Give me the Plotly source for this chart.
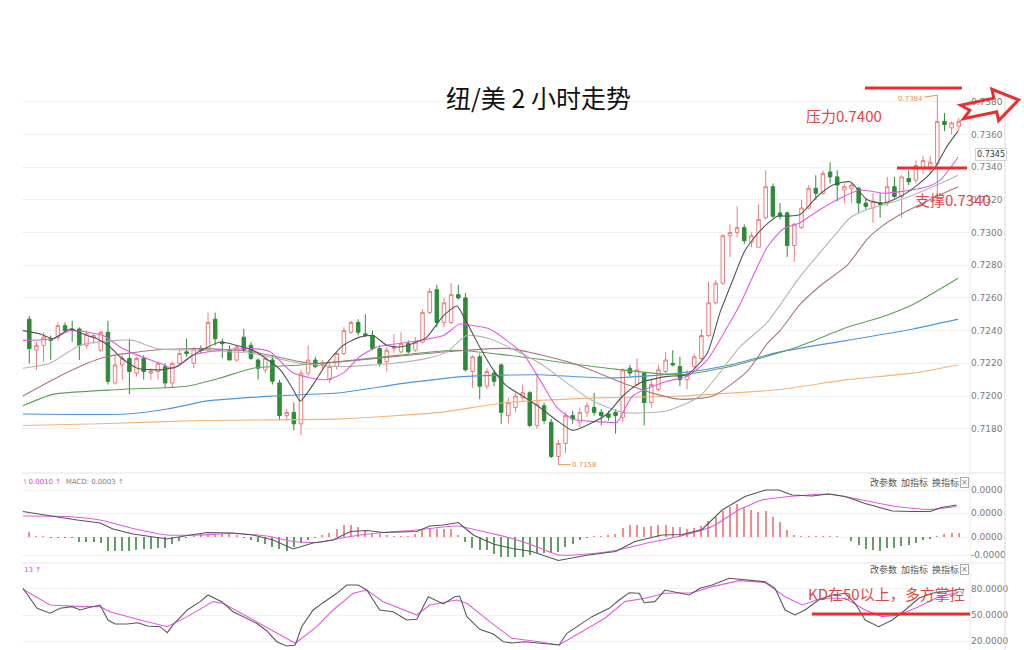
import plotly.graph_objects as go

# ---------------- data ----------------
idx = list(range(131))

opens = [0.7247,0.7228,0.7231,0.7235,0.7236,0.7243,0.7241,0.7241,0.7231,0.7236,
         0.7228,0.7239,0.7208,0.7219,0.7223,0.7214,0.7223,0.7214,0.7215,0.7218,
         0.7208,0.7220,0.7227,0.7220,0.7229,0.7228,0.7247,0.7233,0.7228,0.7222,
         0.7236,0.7231,0.7222,0.7216,0.7222,0.7208,0.7188,0.7190,0.7183,0.7214,
         0.7222,0.7219,0.7210,0.7218,0.7226,0.7239,0.7245,0.7238,0.7237,0.7229,
         0.7221,0.7229,0.7227,0.7232,0.7228,0.7233,0.7251,0.7265,0.7245,0.7245,
         0.7262,0.7260,0.7215,0.7224,0.7206,0.7214,0.7219,0.7188,0.7193,0.7199,
         0.7202,0.7182,0.7194,0.7184,0.7163,0.7171,0.7188,0.7184,0.7190,0.7193,
         0.7190,0.7189,0.7190,0.7187,0.7217,0.7207,0.7214,0.7196,0.7204,0.7215,
         0.7220,0.7218,0.7210,0.7218,0.7223,0.7237,0.7257,0.7269,0.7298,0.7300,
         0.7303,0.7294,0.7291,0.7309,0.7328,0.7312,0.7312,0.7292,0.7303,0.7315,
         0.7327,0.7324,0.7337,0.7334,0.7326,0.7327,0.7327,0.7318,0.7315,0.7318,
         0.7318,0.7328,0.7322,0.7333,0.7332,0.7339,0.7340,0.7342,0.7368,0.7364,
         0.7365]
highs = [0.7249,0.7233,0.7239,0.7237,0.7245,0.7245,0.7246,0.7242,0.7240,0.7238,
         0.7240,0.7246,0.7225,0.7225,0.7235,0.7224,0.7225,0.7217,0.7221,0.7220,
         0.7221,0.7228,0.7235,0.7230,0.7231,0.7251,0.7251,0.7235,0.7231,0.7231,
         0.7241,0.7233,0.7223,0.7224,0.7225,0.7210,0.7192,0.7196,0.7216,0.7231,
         0.7224,0.7222,0.7221,0.7227,0.7242,0.7246,0.7247,0.7250,0.7240,0.7231,
         0.7230,0.7238,0.7239,0.7234,0.7236,0.7253,0.7266,0.7268,0.7260,0.7269,
         0.7268,0.7263,0.7225,0.7226,0.7217,0.7216,0.7220,0.7199,0.7202,0.7207,
         0.7203,0.7214,0.7196,0.7186,0.7173,0.7190,0.7191,0.7193,0.7196,0.7202,
         0.7192,0.7191,0.7192,0.7217,0.7219,0.7223,0.7215,0.7210,0.7219,0.7227,
         0.7228,0.7224,0.7216,0.7226,0.7241,0.7270,0.7271,0.7299,0.7305,0.7316,
         0.7305,0.7300,0.7317,0.7338,0.7330,0.7318,0.7313,0.7306,0.7320,0.7329,
         0.7335,0.7338,0.7343,0.7338,0.7330,0.7331,0.7328,0.7321,0.7324,0.7324,
         0.7334,0.7334,0.7335,0.7338,0.7344,0.7347,0.7347,0.7384,0.7373,0.7368,
         0.7370]
lows = [0.7220,0.7216,0.7221,0.7222,0.7234,0.7239,0.7233,0.7222,0.7229,0.7232,
        0.7227,0.7207,0.7207,0.7210,0.7201,0.7212,0.7210,0.7210,0.7210,0.7205,
        0.7205,0.7219,0.7224,0.7217,0.7226,0.7227,0.7231,0.7223,0.7222,0.7221,
        0.7227,0.7222,0.7210,0.7214,0.7207,0.7185,0.7185,0.7179,0.7176,0.7212,
        0.7217,0.7216,0.7208,0.7216,0.7225,0.7238,0.7237,0.7236,0.7228,0.7218,
        0.7215,0.7226,0.7226,0.7226,0.7227,0.7232,0.7250,0.7242,0.7242,0.7244,
        0.7259,0.7215,0.7205,0.7198,0.7204,0.7206,0.7183,0.7183,0.7190,0.7197,
        0.7181,0.7180,0.7183,0.7162,0.7158,0.7165,0.7183,0.7181,0.7187,0.7188,
        0.7182,0.7185,0.7177,0.7184,0.7212,0.7206,0.7182,0.7193,0.7203,0.7214,
        0.7218,0.7206,0.7204,0.7217,0.7222,0.7236,0.7256,0.7268,0.7285,0.7297,
        0.7293,0.7291,0.7291,0.7308,0.7309,0.7308,0.7285,0.7282,0.7302,0.7314,
        0.7320,0.7323,0.7330,0.7319,0.7318,0.7318,0.7312,0.7314,0.7306,0.7309,
        0.7316,0.7321,0.7309,0.7329,0.7330,0.7336,0.7336,0.7320,0.7362,0.7360,
        0.7362]
closes = [0.7229,0.7231,0.7236,0.7234,0.7243,0.7240,0.7240,0.7231,0.7238,0.7237,
          0.7239,0.7209,0.7219,0.7223,0.7215,0.7223,0.7215,0.7215,0.7220,0.7208,
          0.7220,0.7226,0.7226,0.7229,0.7228,0.7245,0.7235,0.7232,0.7222,0.7230,
          0.7228,0.7223,0.7217,0.7223,0.7209,0.7188,0.7190,0.7183,0.7214,0.7222,
          0.7218,0.7219,0.7218,0.7226,0.7240,0.7245,0.7239,0.7237,0.7229,0.7220,
          0.7228,0.7230,0.7232,0.7227,0.7233,0.7251,0.7264,0.7245,0.7257,0.7262,
          0.7260,0.7216,0.7224,0.7206,0.7215,0.7209,0.7190,0.7196,0.7200,0.7202,
          0.7182,0.7195,0.7185,0.7163,0.7171,0.7188,0.7186,0.7190,0.7194,0.7190,
          0.7188,0.7187,0.7188,0.7216,0.7214,0.7216,0.7196,0.7207,0.7216,0.7222,
          0.7219,0.7210,0.7213,0.7224,0.7237,0.7257,0.7269,0.7298,0.7300,0.7303,
          0.7295,0.7298,0.7308,0.7328,0.7310,0.7310,0.7292,0.7305,0.7315,0.7327,
          0.7324,0.7336,0.7334,0.7329,0.7328,0.7329,0.7318,0.7316,0.7319,0.7317,
          0.7328,0.7322,0.7334,0.7331,0.7341,0.7344,0.7343,0.7368,0.7366,0.7367,
          0.7368]

# moving averages (x = candle index)
ma5_x = [-0.9,1.5,3.3,5.7,8.1,9.5,11.3,12.7,15.1,18.3,20.7,22.9,26.7,29.0,31.3,35.1,36.9,37.9,39.7,41.6,
         43.9,46.2,48.1,50.0,51.8,54.2,55.6,57.9,59.8,60.7,63.0,64.9,66.8,69.0,71.4,73.8,76.0,78.4,80.8,83.0,
         85.4,89.2,92.0,94.8,96.6,98.4,100.1,102.2,104.6,106.0,107.8,110.2,112.4,114.8,117.2,119.4,121.8,124.2,126.4,128.4,129.9]
ma5_y = [0.7240,0.7238,0.7235,0.7241,0.7237,0.7235,0.7230,0.7224,0.7217,0.7216,0.7218,0.7225,0.7233,0.7231,0.7228,0.7216,0.7204,0.7197,0.7207,0.7220,
         0.7231,0.7236,0.7237,0.7231,0.7230,0.7233,0.7236,0.7249,0.7255,0.7249,0.7230,0.7216,0.7206,0.7200,0.7193,0.7185,0.7179,0.7183,0.7189,0.7200,
         0.7208,0.7212,0.7213,0.7226,0.7251,0.7271,0.7289,0.7301,0.7310,0.7310,0.7311,0.7322,0.7329,0.7331,0.7320,0.7318,0.7322,0.7329,0.7338,0.7353,0.7362]
ma10_x = [-0.9,3.3,5.7,10.3,12.7,15.1,18.3,20.1,22.9,26.7,31.3,33.7,36.9,41.6,43.9,46.2,48.6,53.2,57.9,60.2,
          62.1,64.4,69.0,71.4,73.8,76.0,80.8,82.2,84.4,89.2,92.0,94.8,97.6,99.4,103.2,105.4,107.8,110.2,113.4,116.2,
          119.4,121.8,125.6,127.4,129.9]
ma10_y = [0.7234,0.7235,0.7240,0.7237,0.7230,0.7225,0.7220,0.7217,0.7225,0.7228,0.7229,0.7227,0.7214,0.7210,0.7214,0.7224,0.7230,0.7233,0.7237,0.7244,
          0.7243,0.7241,0.7226,0.7210,0.7193,0.7186,0.7184,0.7184,0.7200,0.7209,0.7212,0.7222,0.7242,0.7256,0.7291,0.7302,0.7306,0.7313,0.7321,0.7326,
          0.7324,0.7325,0.7328,0.7332,0.7346]
ma20_x = [-0.9,2.9,7.1,12.3,14.5,17.9,23.9,31.3,37.9,43.5,50.9,55.6,58.4,61.2,64.4,71.4,78.4,83.0,89.2,93.8,
          99.4,103.2,107.8,112.4,114.8,117.2,121.8,126.4,129.9]
ma20_y = [0.7217,0.7220,0.7231,0.7234,0.7234,0.7229,0.7228,0.7226,0.7220,0.7218,0.7220,0.7223,0.7227,0.7237,0.7235,0.7220,0.7198,0.7190,0.7191,0.7200,
          0.7230,0.7245,0.7273,0.7297,0.7309,0.7314,0.7320,0.7328,0.7335]
ma30_x = [-0.9,3.3,8.1,10.8,17.3,24.3,31.3,39.3,46.3,55.6,61.2,67.2,76.0,83.0,87.8,91.0,95.6,100.4,103.2,105.0,
          107.8,110.5,114.4,117.2,119.0,121.8,126.4,129.9]
ma30_y = [0.7200,0.7210,0.7220,0.7224,0.7228,0.7229,0.7227,0.7220,0.7222,0.7226,0.7228,0.7229,0.7220,0.7208,0.7201,0.7198,0.7200,0.7215,0.7232,0.7240,
          0.7256,0.7267,0.7280,0.7296,0.7303,0.7311,0.7321,0.7328]
ma60_x = [-0.9,3.3,12.7,22.1,26.7,31.3,37.9,43.4,51.8,59.8,66.8,80.8,91.0,98.0,107.4,114.4,119.0,123.6,129.9]
ma60_y = [0.7194,0.7201,0.7204,0.7206,0.7211,0.7217,0.7219,0.7221,0.7225,0.7228,0.7225,0.7217,0.7213,0.7218,0.7230,0.7242,0.7248,0.7256,0.7272]
ma120_x = [-0.9,13.7,19.3,24.9,34.1,43.5,52.8,61.2,71.4,80.8,91.0,98.0,105.0,114.4,123.6,129.9]
ma120_y = [0.7189,0.7189,0.7192,0.7197,0.7200,0.7202,0.7208,0.7212,0.7213,0.7211,0.7214,0.7219,0.7227,0.7234,0.7241,0.7247]
ma250_x = [-0.9,9.9,23.9,43.4,57.4,66.8,80.8,91.0,105.0,114.4,123.6,129.9]
ma250_y = [0.7182,0.7183,0.7185,0.7186,0.7190,0.7196,0.7199,0.7200,0.7204,0.7210,0.7214,0.7219]

price_ticks = [0.7180,0.7200,0.7220,0.7240,0.7260,0.7280,0.7300,0.7320,0.7340,0.7360,0.7380]
price_labels = ["0.7180","0.7200","0.7220","0.7240","0.7260","0.7280","0.7300","0.7320","0.7340","0.7360","0.7380"]

# MACD
macd_hist = [0.0001,0.00001,0.00001,-0.00001,-0.00001,-0.00001,-0.00002,-0.0001,-0.0001,-0.0001,
             -0.00012,-0.00028,-0.00028,-0.00028,-0.00028,-0.00026,-0.00024,-0.00024,-0.00022,-0.00022,
             -0.00014,-0.00008,-0.00002,0.00002,0.00006,0.00006,0.00006,0.00006,0.00006,0.00004,
             -0.00002,-0.00006,-0.0001,-0.00014,-0.0002,-0.00024,-0.00028,-0.0002,-0.00012,-0.00006,
             -0.00002,0.00004,0.00008,0.00016,0.00024,0.00024,0.0002,0.00012,0.00006,0.00006,
             0.00004,0.00002,0.00002,0.00002,0.00006,0.00014,0.00018,0.00016,0.00016,0.00016,
             0.00004,-0.0001,-0.00022,-0.00026,-0.00026,-0.00034,-0.0004,-0.0004,-0.0004,-0.0004,
             -0.00036,-0.00032,-0.00032,-0.00032,-0.0003,-0.0002,-0.00014,-0.00006,-0.00002,0.00002,
             0.00002,0.00004,0.00006,0.00018,0.00024,0.00024,0.0002,0.00022,0.00024,0.00024,
             0.0002,0.0002,0.00016,0.00018,0.00022,0.00032,0.0004,0.00052,0.0006,0.00066,
             0.0006,0.00054,0.0005,0.00052,0.0004,0.0003,0.00014,0.00004,0.00002,0.00002,
             0.00002,0.00001,0.00001,0.00001,0.0,-0.00008,-0.00016,-0.00024,-0.00026,-0.00028,
             -0.00022,-0.00022,-0.00018,-0.00016,-0.00012,-0.00006,-0.00004,0.00001,0.00006,0.00008,0.00008]
dif_x = [-0.9,2.9,6.7,9.9,11.7,14.5,16.9,19.3,22.1,24.9,28.5,31.3,34.1,36.9,39.7,42.5,44.9,47.2,49.5,54.2,
         56.0,57.9,60.0,62.1,64.9,67.5,70.3,74.0,78.2,82.0,84.7,88.5,91.3,94.1,96.9,100.1,103.0,104.8,106.7,109.5,
         111.8,114.1,116.9,120.7,123.5,126.0,127.6,129.7]
dif_y = [0.00051,0.00042,0.00034,0.00028,0.00016,0.00006,0.00001,-0.00004,0.00003,0.00009,0.00008,0.00004,-0.00006,-0.00024,-0.00012,-0.00006,0.00011,0.00013,0.00009,0.00011,
         0.00022,0.00024,0.00029,0.00004,-0.00014,-0.00023,-0.00029,-0.00047,-0.00036,-0.00029,-0.00009,0.00004,0.00005,0.00015,0.00054,0.00081,0.00094,0.00094,0.00084,0.00082,
         0.00086,0.00081,0.00067,0.00052,0.00051,0.00051,0.00059,0.00064]
dea_x = [-0.9,5.3,9.9,14.5,19.3,23.9,28.5,33.2,36.9,40.2,44.9,49.5,54.2,59.8,63.5,67.5,70.3,74.0,78.2,82.4,
         86.2,90.8,95.5,99.2,102.5,107.1,111.8,116.5,121.2,125.8,129.7]
dea_y = [0.00042,0.00041,0.00034,0.00017,0.00004,0.00004,0.00007,0.00002,-0.00009,-0.00011,0.00001,0.00009,0.00014,0.00022,0.00011,-0.00003,-0.00016,-0.00036,-0.00034,-0.00026,
         -0.00013,0.00001,0.00021,0.00054,0.00074,0.00082,0.00086,0.00074,0.00061,0.00055,0.00061]
macd_ticks = [-0.00036, 0.0, 0.00048, 0.00094]
macd_labels = ["-0.0000", "0.0000", "0.0000", "0.0000"]

# KD
k_x = [-0.9,0.1,1.1,2.9,4.3,6.0,7.1,8.5,9.9,11.0,12.0,13.7,15.2,16.5,18.3,19.3,20.1,22.1,23.9,25.0,
       26.9,28.5,30.4,31.8,33.2,34.6,36.0,37.2,38.1,39.7,41.1,43.0,44.4,46.0,47.2,49.0,50.9,52.8,54.2,55.8,
       57.9,59.5,60.2,61.2,63.0,64.9,66.3,67.5,69.3,71.3,74.1,75.2,76.9,78.7,81.1,82.5,83.9,85.3,86.0,87.5,
       88.9,90.9,92.3,93.8,95.5,97.9,100.1,102.9,104.3,105.7,107.1,108.5,110.4,112.3,114.1,115.5,116.9,118.8,120.7,122.5,
       124.4,126.2,128.1,129.7]
k_y = [80.8,69.3,57.7,52.0,57.7,59.6,55.8,58.9,61.5,44.2,39.6,39.6,41.1,37.3,36.5,29.6,38.5,55.8,65.4,73.1,
       65.4,53.8,46.2,40.4,31.9,19.2,14.3,15.4,36.5,55.8,64.2,75.0,84.6,84.6,78.8,55.8,53.8,44.2,45.1,71.1,
       62.7,71.1,71.9,48.1,33.5,28.1,19.2,17.7,19.2,17.4,15.4,28.9,38.5,48.1,57.7,67.3,75.7,75.0,64.2,65.4,
       78.8,75.0,73.1,80.8,84.6,92.3,90.4,88.4,80.8,55.8,50.0,55.8,67.3,73.1,75.0,63.5,44.2,36.5,44.2,55.8,
       69.3,75.0,76.9,78.8]
d_x = [-0.9,2.9,7.5,9.9,11.3,15.5,19.3,22.1,25.7,27.1,30.9,34.6,37.2,40.2,42.5,45.3,47.2,49.5,54.2,56.0,
       59.8,61.2,64.4,67.5,71.3,74.1,76.9,80.5,83.3,86.1,88.9,92.7,95.5,99.3,102.9,105.7,108.1,110.9,114.1,116.9,
       119.3,121.6,124.4,127.2,129.7]
d_y = [79.7,61.5,59.6,59.6,53.8,44.2,36.5,48.1,65.4,63.5,46.2,28.9,17.4,36.5,55.8,75.0,78.8,65.4,50.0,61.5,
       67.3,63.5,42.3,23.1,19.2,15.4,28.9,46.2,65.4,69.3,75.0,75.7,82.7,89.6,87.3,71.1,61.5,69.3,69.3,55.8,
       48.1,50.0,59.6,71.1,75.7]
kd_ticks = [20, 50, 80]
kd_labels = ["20.0000", "50.0000", "80.0000"]

# ---------------- figure ----------------
W, H = 1024, 650
def fx(x): return x / W
def fy(y): return 1 - y / H

RED = '#e8302e'
UP = '#ef7b7b'
DOWN = '#2e8b3a'
MAG = '#e35be3'

fig = go.Figure()
fig.add_trace(go.Candlestick(
    x=idx, open=opens, high=highs, low=lows, close=closes,
    increasing=dict(line=dict(color=UP, width=1), fillcolor='white'),
    decreasing=dict(line=dict(color=DOWN, width=1), fillcolor=DOWN),
    whiskerwidth=0, xaxis='x', yaxis='y', hoverinfo='skip'))

for xs, ys, col in [(ma250_x, ma250_y, '#f6b478'),
                    (ma120_x, ma120_y, '#4c97dc'),
                    (ma60_x, ma60_y, '#5ea255'),
                    (ma30_x, ma30_y, '#a8767e'),
                    (ma20_x, ma20_y, '#b5b5b5'),
                    (ma10_x, ma10_y, MAG),
                    (ma5_x, ma5_y, '#555555')]:
    fig.add_trace(go.Scatter(x=xs, y=ys, mode='lines', line=dict(color=col, width=1.1, shape='spline', smoothing=0.6),
                             xaxis='x', yaxis='y', hoverinfo='skip'))

bar_cols = ['#f08c8c' if v > 0 else '#5f9f66' for v in macd_hist]
fig.add_trace(go.Bar(x=idx, y=macd_hist, width=0.17, marker=dict(color=bar_cols, line=dict(width=0)),
                     xaxis='x2', yaxis='y2', hoverinfo='skip'))
fig.add_trace(go.Scatter(x=dea_x, y=dea_y, mode='lines', line=dict(color=MAG, width=1.1, shape='spline', smoothing=0.5),
                         xaxis='x2', yaxis='y2', hoverinfo='skip'))
fig.add_trace(go.Scatter(x=dif_x, y=dif_y, mode='lines', line=dict(color='#555555', width=1.1),
                         xaxis='x2', yaxis='y2', hoverinfo='skip'))

fig.add_trace(go.Scatter(x=d_x, y=d_y, mode='lines', line=dict(color=MAG, width=1.1),
                         xaxis='x3', yaxis='y3', hoverinfo='skip'))
fig.add_trace(go.Scatter(x=k_x, y=k_y, mode='lines', line=dict(color='#5a5a5a', width=1.1),
                         xaxis='x3', yaxis='y3', hoverinfo='skip'))

xdom = [fx(22), fx(970)]
xr = [-1.02, 131.57]
xcommon = dict(domain=xdom, range=xr, showticklabels=False, showgrid=False, zeroline=False,
               showline=False, ticks='', fixedrange=True)
tickfont = dict(family='DejaVu Sans', size=9, color='#7a7a7a')
ycommon = dict(side='right', showgrid=True, gridcolor='#f1f1f1', gridwidth=1, zeroline=False,
               showline=False, ticks='', tickfont=tickfont, fixedrange=True, tickmode='array')

fig.update_layout(
    width=W, height=H, margin=dict(l=0, r=0, t=0, b=0),
    paper_bgcolor='white', plot_bgcolor='white', showlegend=False, bargap=0,
    xaxis=dict(**xcommon, anchor='y', rangeslider=dict(visible=False)),
    xaxis2=dict(**xcommon, anchor='y2', matches='x'),
    xaxis3=dict(**xcommon, anchor='y3', matches='x'),
    yaxis=dict(**ycommon, anchor='x', domain=[fy(472), fy(80)], range=[0.715352, 0.739327],
               tickvals=price_ticks, ticktext=price_labels),
    yaxis2=dict(**ycommon, anchor='x2', domain=[fy(562), fy(474)], range=[-0.0005, 0.00126],
                tickvals=macd_ticks, ticktext=macd_labels),
    yaxis3=dict(**ycommon, anchor='x3', domain=[0, fy(564)], range=[9.64, 108.8],
                tickvals=kd_ticks, ticktext=kd_labels),
)

cjk = 'Noto Sans CJK SC'
def note(text, x, y, size, color, family=cjk, xanchor='center', **kw):
    d = dict(text=text, x=fx(x), y=fy(y), xref='paper', yref='paper', showarrow=False,
             xanchor=xanchor, yanchor='middle', font=dict(family=family, size=size, color=color))
    d.update(kw)
    return d

ann = []
ann.append(note('纽/美 2 小时走势', 538, 97, 25, '#111111'))
ann.append(note('压力0.7400', 844, 116, 15, '#e54545'))
ann.append(note('支撑0.7340', 953, 199, 15, '#e54545'))
ann.append(note('KD在50以上，多方掌控', 886, 593, 15, '#e54545'))
ann.append(dict(text='0.7384', x=127, y=0.7384, xref='x', yref='y', showarrow=True, arrowhead=0, arrowwidth=1,
                arrowcolor='#e8915a', ax=-27, ay=4, font=dict(family='DejaVu Sans', size=7, color='#e8915a')))
ann.append(dict(text='0.7158', x=74, y=0.7158, xref='x', yref='y', showarrow=True, arrowhead=0, arrowwidth=1,
                arrowcolor='#e8915a', ax=26, ay=0, font=dict(family='DejaVu Sans', size=7, color='#e8915a')))
ann.append(note('0.7345', 991, 154, 8, '#333333', family='DejaVu Sans',
                bordercolor='#cfcfcf', borderwidth=1, borderpad=1, bgcolor='white'))
ann.append(note("<span style='color:#e040e0'>\\ 0.0010 ↑</span>  <span style='color:#808080'>MACD: 0.0003 ↑</span>",
                22, 482, 7, '#808080', family='DejaVu Sans', xanchor='left'))
ann.append(note('13 ↑', 22, 570, 7, '#e040e0', family='DejaVu Sans', xanchor='left'))
for yy in (482, 569):
    ann.append(note('改参数  加指标  换指标', 868, yy, 9, '#555555', xanchor='left'))
    ann.append(note('×', 964, yy, 8, '#777777', family='DejaVu Sans',
                    bordercolor='#aaaaaa', borderwidth=1, borderpad=0))
fig.update_layout(annotations=ann)

shapes = []
def hline(x0, x1, y, color, w):
    return dict(type='line', xref='paper', yref='paper', x0=fx(x0), x1=fx(x1), y0=fy(y), y1=fy(y),
                line=dict(color=color, width=w))
def vline(x, y0, y1, color, w):
    return dict(type='line', xref='paper', yref='paper', x0=fx(x), x1=fx(x), y0=fy(y0), y1=fy(y1),
                line=dict(color=color, width=w))
shapes.append(hline(22, 1005, 473, '#e4e4e4', 1))
shapes.append(hline(22, 1005, 563, '#e4e4e4', 1))
shapes.append(vline(970, 88, 650, '#ececec', 1))
shapes.append(vline(1005, 88, 650, '#d8d8d8', 1))
shapes.append(hline(865, 962, 88, RED, 3))
shapes.append(hline(897, 967, 168, RED, 3))
shapes.append(hline(812, 970, 614, RED, 3))
arrow_pts = [(960.5, 105.2), (993.8, 98.1), (991.9, 89.3), (1018.7, 99.9), (998.6, 120.6),
             (996.7, 111.8), (963.5, 118.8), (969.8, 110.3)]
path = 'M ' + ' L '.join(f'{fx(a):.5f},{fy(b):.5f}' for a, b in arrow_pts) + ' Z'
shapes.append(dict(type='path', xref='paper', yref='paper', path=path, line=dict(color=RED, width=3)))
fig.update_layout(shapes=shapes)

fig.write_html("out.html", config={'displayModeBar': False},
               post_script="document.body.style.margin='0';document.body.style.overflow='hidden';")
